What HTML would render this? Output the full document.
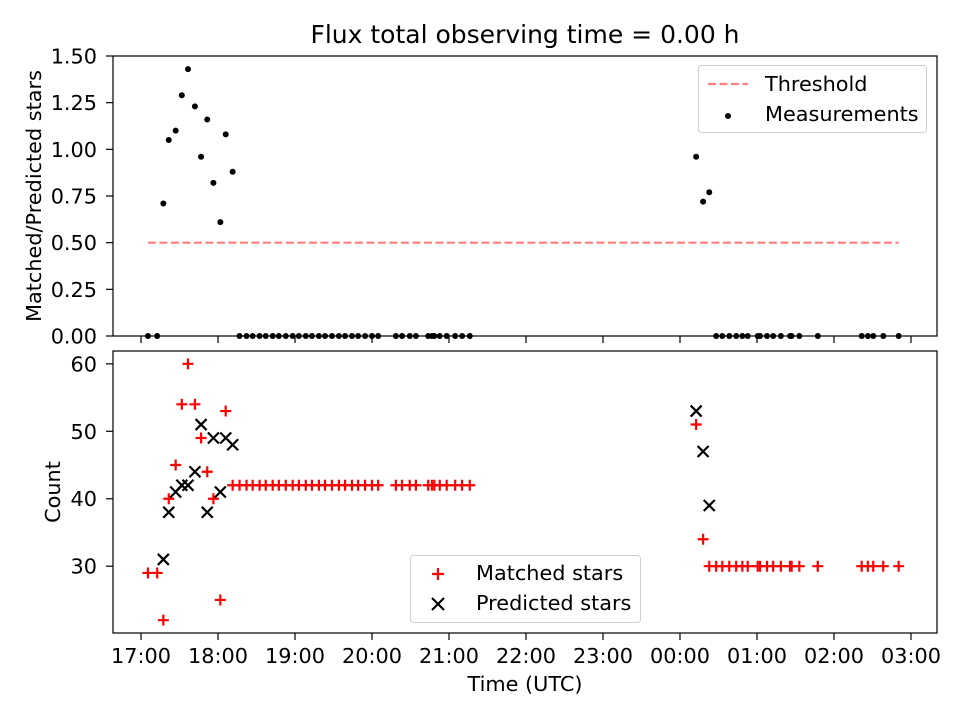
<!DOCTYPE html>
<html><head><meta charset="utf-8"><style>
body{margin:0;background:#fff;}
svg{display:block;font-family:"DejaVu Sans","Liberation Sans",sans-serif;}
</style></head><body>
<svg id="chart" width="960" height="720" viewBox="0 0 960 720">
<rect width="960" height="720" fill="#fff"/>
<text x="525" y="43" font-size="25" text-anchor="middle" fill="#000">Flux total observing time = 0.00 h</text>
<g id="topPanel"></g>
<g id="botPanel"></g>
</svg>
<script>
// hours since 17:00 UTC
const times = [0.09,0.21,0.29,0.36,0.45,0.53,0.61,0.70,0.78,0.86,0.94,1.03,1.10,1.19,
1.28,1.37,1.45,1.54,1.62,1.71,1.79,1.88,1.97,2.05,2.14,2.22,2.31,2.39,2.48,2.57,2.65,2.74,2.82,2.91,3.00,3.08,
3.31,3.39,3.49,3.57,3.73,3.78,3.81,3.88,3.97,4.08,4.17,4.27,
7.21,7.30,7.38,7.47,7.55,7.64,7.73,7.81,7.88,8.01,8.04,8.13,8.21,8.31,8.43,8.45,8.55,8.79,9.36,9.44,9.51,9.64,9.84];
const matched = [29,29,22,40,45,54,60,54,49,44,40,25,53,42,
42,42,42,42,42,42,42,42,42,42,42,42,42,42,42,42,42,42,42,42,42,42,
42,42,42,42,42,42,42,42,42,42,42,42,
51,34,30,30,30,30,30,30,30,30,30,30,30,30,30,30,30,30,30,30,30,30,30];
const predicted = [null,null,31,38,41,42,42,44,51,38,49,41,49,48,
null,null,null,null,null,null,null,null,null,null,null,null,null,null,null,null,null,null,null,null,null,null,
null,null,null,null,null,null,null,null,null,null,null,null,
53,47,39,null,null,null,null,null,null,null,null,null,null,null,null,null,null,null,null,null,null,null,null];
const ratio = [0,0,0.71,1.05,1.10,1.29,1.43,1.23,0.96,1.16,0.82,0.61,1.08,0.88,
0,0,0,0,0,0,0,0,0,0,0,0,0,0,0,0,0,0,0,0,0,0,
0,0,0,0,0,0,0,0,0,0,0,0,
0.96,0.72,0.77,0,0,0,0,0,0,0,0,0,0,0,0,0,0,0,0,0,0,0,0];
const threshold = 0.5;
const xTickHours = [0,1,2,3,4,5,6,7,8,9,10];
const xTickLabels = ["17:00","18:00","19:00","20:00","21:00","22:00","23:00","00:00","01:00","02:00","03:00"];
const topTicks = [0,0.25,0.5,0.75,1.0,1.25,1.5];
const botTicks = [30,40,50,60];

const NS="http://www.w3.org/2000/svg";
const L=113,R=937,XMIN=-0.364,XMAX=10.338;
const T1=56,B1=336,T2=351,B2=633;
const FS=20.8;
const xs=h=>L+(h-XMIN)/(XMAX-XMIN)*(R-L);
const ys1=v=>B1-(v-0)/(1.5-0)*(B1-T1);
const ys2=v=>B2-(v-20.1)/(61.9-20.1)*(B2-T2);
function mk(tag,attrs,parent){const e=document.createElementNS(NS,tag);for(const k in attrs)e.setAttribute(k,attrs[k]);parent.appendChild(e);return e;}
const gTop=document.getElementById('topPanel'),gBot=document.getElementById('botPanel');

let th=mk('line',{x1:xs(times[0]),x2:xs(times[times.length-1]),y1:ys1(threshold),y2:ys1(threshold),stroke:'#ff7f7f','stroke-width':2.2,'stroke-dasharray':'8,3.5'},gTop);


times.forEach((t,i)=>{
 const c=mk('circle',{cx:xs(t),cy:ys1(ratio[i]),r:3,fill:'#000'},gTop);
 
 
});
times.forEach((t,i)=>{
 const x=xs(t),y=ys2(matched[i]);
 const g=mk('path',{d:`M${x-5.5},${y}H${x+5.5}M${x},${y-5.5}V${y+5.5}`,stroke:'#f00','stroke-width':2.2,fill:'none'},gBot);
 
 
 if(predicted[i]!==null){
  const py=ys2(predicted[i]);
  const p=mk('path',{d:`M${x-5.5},${py-5.5}L${x+5.5},${py+5.5}M${x-5.5},${py+5.5}L${x+5.5},${py-5.5}`,stroke:'#000','stroke-width':2.2,fill:'none'},gBot);
  
  
 }
});
[[gTop,T1,B1],[gBot,T2,B2]].forEach(([g,t,b])=>{
 const r=mk('rect',{x:L,y:t,width:R-L,height:b-t,fill:'none',stroke:'#000','stroke-width':1.2},g);
 
 
 xTickHours.forEach(h=>{mk('line',{x1:xs(h),x2:xs(h),y1:b,y2:b+7,stroke:'#000','stroke-width':1.2},g);});
});
xTickHours.forEach((h,i)=>{
 const tx=mk('text',{x:xs(h),y:663,'font-size':FS,'text-anchor':'middle'},gBot);
 tx.textContent=xTickLabels[i];
 
 
});
topTicks.forEach(v=>{
 mk('line',{x1:L-7,x2:L,y1:ys1(v),y2:ys1(v),stroke:'#000','stroke-width':1.2},gTop);
 const tx=mk('text',{x:L-16,y:ys1(v)+7.5,'font-size':FS,'text-anchor':'end'},gTop);
 tx.textContent=v.toFixed(2);
 
 
});
botTicks.forEach(v=>{
 mk('line',{x1:L-7,x2:L,y1:ys2(v),y2:ys2(v),stroke:'#000','stroke-width':1.2},gBot);
 const tx=mk('text',{x:L-16,y:ys2(v)+7.5,'font-size':FS,'text-anchor':'end'},gBot);
 tx.textContent=v;
 
 
});
</script>
<svg style="position:absolute;left:0;top:0" width="960" height="720" font-family="DejaVu Sans, Liberation Sans, sans-serif" font-size="20.8">
<text x="0" y="0" transform="translate(41,196) rotate(-90)" text-anchor="middle">Matched/Predicted stars</text>
<text x="0" y="0" transform="translate(60,492) rotate(-90)" text-anchor="middle">Count</text>
<text x="525" y="691" text-anchor="middle">Time (UTC)</text>
<g>
<rect x="698.5" y="65.5" width="228" height="67" rx="3" fill="#fff" fill-opacity="0.8" stroke="#d0d0d0"/>
<line x1="708" x2="748" y1="84" y2="84" stroke="#ff7f7f" stroke-width="2.2" stroke-dasharray="8,3.5"/>
<text x="765" y="91">Threshold</text>
<circle cx="728" cy="116" r="3" fill="#000"/>
<text x="765" y="121">Measurements</text>
</g>
<g>
<rect x="410.5" y="555.5" width="230" height="67" rx="3" fill="#fff" fill-opacity="0.8" stroke="#d0d0d0"/>
<path d="M432,574H444M438,568V580" stroke="#f00" stroke-width="2.2"/>
<text x="476" y="580">Matched stars</text>
<path d="M432,598L444,610M432,610L444,598" stroke="#000" stroke-width="2.2"/>
<text x="476" y="610">Predicted stars</text>
</g>
</svg>
</body></html>
